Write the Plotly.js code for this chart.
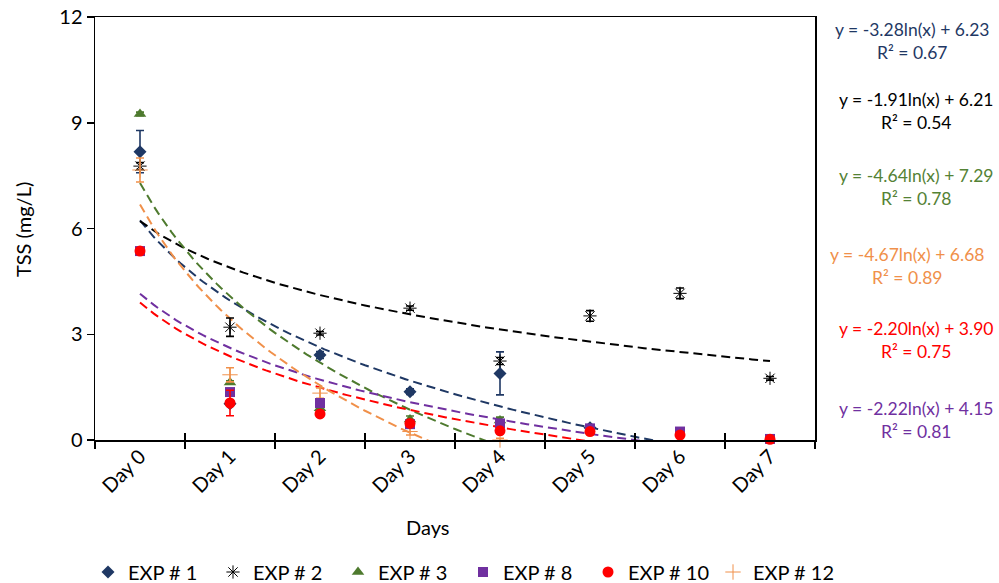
<!DOCTYPE html>
<html>
<head>
<meta charset="utf-8">
<script src="https://cdn.plot.ly/plotly-3.0.1.min.js"></script>
<style>html,body{margin:0;padding:0;background:#fff;}#chart{width:999px;height:583px;}</style>
</head>
<body>
<div id="chart"></div>
<script>
// ---- data ----
var days = ['Day 0', 'Day 1', 'Day 2', 'Day 3', 'Day 4', 'Day 5', 'Day 6', 'Day 7'];
var dayIndex = [1, 2, 3, 4, 5, 6, 7, 8];

var seriesNames = ['EXP # 1', 'EXP # 2', 'EXP # 3', 'EXP # 8', 'EXP # 10', 'EXP # 12'];

var exp1  = [8.18, 1.03, 2.41, 1.37, 1.89, 0.35, null, null];
var exp2  = [7.77, 3.20, 3.03, 3.74, 2.24, 3.52, 4.16, 1.75];
var exp3  = [9.25, 1.63, 0.90, 0.58, 0.55, null, null, null];
var exp8  = [5.36, 1.36, 1.05, 0.45, 0.47, 0.33, 0.24, 0.03];
var exp10 = [5.36, 1.05, 0.74, 0.47, 0.26, 0.24, 0.14, 0.02];
var exp12 = [7.66, 1.85, 1.33, 0.24, 0.00, null, null, null];

var err1  = [0.60, 0.05, 0.10, 0.08, 0.61, 0.05, 0, 0];
var err2  = [0.10, 0.26, 0.05, 0.06, 0.10, 0.15, 0.15, 0.05];
var err3  = [0.05, 0.05, 0.05, 0.10, 0.10, 0, 0, 0];
var err8  = [0.05, 0.05, 0.05, 0.05, 0.05, 0.05, 0.05, 0.02];
var err10 = [0.05, 0.36, 0.05, 0.05, 0.05, 0.05, 0.05, 0.02];
var err12 = [0.34, 0.20, 0.15, 0.10, 0.05, 0, 0, 0];

// logarithmic trendline coefficients shown on the chart: y = a ln(x) + b
var trendA  = [-3.28, -1.91, -4.64, -2.22, -2.20, -4.67];
var trendB  = [6.23, 6.21, 7.29, 4.15, 3.90, 6.68];
var trendR2 = ['0.67', '0.54', '0.78', '0.81', '0.75', '0.89'];

var yTicks = [0, 3, 6, 9, 12];

// ---- styles ----
var colors = ['#1F3864', '#000000', '#4E7A2E', '#7030A0', '#FF0000', '#F0904A'];
var textColors = ['#1F3864', '#000000', '#548235', '#7030A0', '#FF0000', '#F0904A'];
var symbols = ['diamond', 'asterisk-open', 'triangle-up', 'square', 'circle', 'cross-thin-open'];
var sizes = [10, 11, 11, 10, 11, 11];
var values = [exp1, exp2, exp3, exp8, exp10, exp12];
var errs = [err1, err2, err3, err8, err10, err12];
var FONT = 'Lato, "Open Sans", sans-serif';

var traces = [];
// trendlines first (drawn below markers)
for (var s = 0; s < 6; s++) {
  var tx = [], ty = [];
  for (var k = 0; k <= 140; k++) {
    var xv = 1 + k * 0.05;
    tx.push(xv);
    ty.push(trendA[s] * Math.log(xv) + trendB[s]);
  }
  traces.push({
    x: tx, y: ty, type: 'scatter', mode: 'lines', showlegend: false, hoverinfo: 'skip',
    line: {color: colors[s], width: 2, dash: '9px,5px'}
  });
}
var drawOrder = [2, 0, 1, 5, 3, 4];
drawOrder.forEach(function (s) {
  var isOpen = symbols[s].indexOf('open') >= 0;
  traces.push({
    x: dayIndex, y: values[s], type: 'scatter', mode: 'markers', name: seriesNames[s],
    legendrank: s + 1, cliponaxis: false,
    marker: {
      symbol: symbols[s], size: sizes[s], color: colors[s],
      line: {color: colors[s], width: isOpen ? 1 : 0}
    },
    error_y: {type: 'data', array: errs[s], visible: true, color: colors[s], thickness: 1.6, width: 4}
  });
});

// equation annotations
var eqPos = [
  {x: 912, y: 30, s: 0},
  {x: 916, y: 100, s: 1},
  {x: 916, y: 176, s: 2},
  {x: 907, y: 255, s: 5},
  {x: 916, y: 329, s: 4},
  {x: 916, y: 409, s: 3}
];
var X0 = 95, X1 = 815, Y0 = 440, Y1 = 17;
function px2x(p) { return (p - X0) / (X1 - X0); }
function px2y(p) { return (Y0 - p) / (Y0 - Y1); }
var annotations = [];
eqPos.forEach(function (e) {
  var s = e.s;
  var a = trendA[s].toFixed(2), b = trendB[s].toFixed(2);
  annotations.push({
    xref: 'paper', yref: 'paper', x: px2x(e.x), y: px2y(e.y + 11), xanchor: 'center', yanchor: 'middle',
    showarrow: false, align: 'center',
    text: 'y = ' + a + 'ln(x) + ' + b + '<br>R² = ' + trendR2[s],
    font: {family: FONT, size: 17.5, color: textColors[s]}
  });
});
annotations.push({
  xref: 'paper', yref: 'paper', x: px2x(427), y: px2y(527), xanchor: 'center', yanchor: 'middle',
  showarrow: false, text: 'Days', font: {family: FONT, size: 20, color: '#000'}
});
annotations.push({
  xref: 'paper', yref: 'paper', x: px2x(23), y: px2y(230), xanchor: 'center', yanchor: 'middle',
  showarrow: false, text: 'TSS (mg/L)', textangle: -90, font: {family: FONT, size: 20, color: '#000'}
});

var boundaries = [0.5, 1.5, 2.5, 3.5, 4.5, 5.5, 6.5, 7.5, 8.5];

var layout = {
  width: 999, height: 583,
  margin: {l: X0, r: 999 - X1, t: Y1, b: 583 - Y0, pad: 0, autoexpand: false},
  paper_bgcolor: '#fff', plot_bgcolor: '#fff',
  font: {family: FONT, size: 16, color: '#000'},
  showlegend: true,
  legend: {
    orientation: 'h', x: px2x(88), y: px2y(572), xanchor: 'left', yanchor: 'middle',
    font: {family: FONT, size: 20, color: '#000'}, itemwidth: 30, traceorder: 'normal',
    entrywidth: 80, entrywidthmode: 'pixels'
  },
  xaxis: {
    range: [0.5, 8.5], showgrid: false, zeroline: false, automargin: false,
    showline: true, linecolor: '#000', linewidth: 1.5, mirror: true,
    tickmode: 'array', tickvals: boundaries, ticktext: boundaries.map(function () { return ''; }),
    ticks: 'outside', ticklen: 7, tickwidth: 1.5, tickcolor: '#000'
  },
  xaxis2: {
    overlaying: 'x', range: [0.5, 8.5], showgrid: false, zeroline: false, showline: false, automargin: false,
    tickmode: 'array', tickvals: boundaries, ticktext: boundaries.map(function () { return ''; }),
    ticks: 'inside', ticklen: 7, tickwidth: 1.5, tickcolor: '#000', side: 'bottom'
  },
  xaxis3: {
    overlaying: 'x', range: [0.5, 8.5], showgrid: false, zeroline: false, showline: false, automargin: false,
    tickmode: 'array', tickvals: dayIndex, ticktext: days, ticks: '', tickangle: -45,
    tickfont: {family: FONT, size: 20, color: '#000'}, side: 'bottom'
  },
  yaxis: {
    range: [0, 12], showgrid: false, zeroline: false, automargin: false,
    showline: true, linecolor: '#000', linewidth: 1.5, mirror: true,
    tickmode: 'array', tickvals: yTicks, ticks: 'outside', ticklen: 7, tickwidth: 1.5, tickcolor: '#000',
    tickfont: {family: FONT, size: 20, color: '#000'}
  },
  annotations: annotations
};

traces.push({x: [0.5], y: [0], xaxis: 'x2', yaxis: 'y', mode: 'markers', marker: {opacity: 0}, showlegend: false, hoverinfo: 'skip'});
traces.push({x: [0.5], y: [0], xaxis: 'x3', yaxis: 'y', mode: 'markers', marker: {opacity: 0}, showlegend: false, hoverinfo: 'skip'});

Plotly.newPlot('chart', traces, layout, {displayModeBar: false, staticPlot: true});
</script>
</body>
</html>
